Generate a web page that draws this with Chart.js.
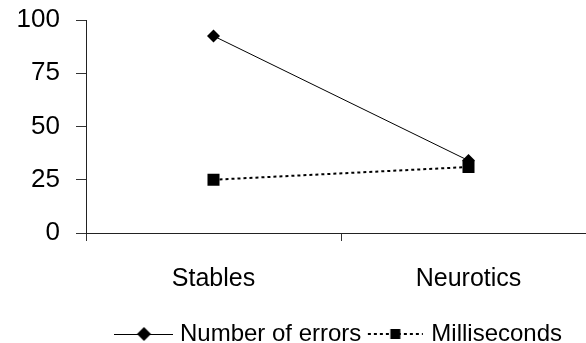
<!DOCTYPE html>
<html>
<head>
<meta charset="utf-8">
<script src="https://cdn.jsdelivr.net/npm/chart.js@4/dist/chart.umd.min.js"></script>
<style>
    html, body { margin: 0; background: #fff; overflow: hidden; }
    #wrap { width: 586px; height: 343px; overflow: hidden; }
    canvas { display: block; }
</style>
</head>
<body>
<div id="wrap">
    <!-- canvas is 10px wider than the page: the plot runs off the right edge as in the original -->
    <canvas id="lineChart" width="596" height="343"></canvas>
</div>
<script>
// Chart data
var groups = ['Stables', 'Neurotics'];
var numberOfErrors = [92.5, 34];
var milliseconds = [25, 31];
var seriesNames = ['Number of errors', 'Milliseconds'];
var yTicks = [0, 25, 50, 75, 100];

var fontName = '"Liberation Sans", Arial, sans-serif';

// small legend pictures: line + marker
function legendMark(kind) {
    var c = document.createElement('canvas');
    c.width = 59;
    c.height = 16;
    var ctx = c.getContext('2d');
    ctx.strokeStyle = '#000';
    ctx.fillStyle = '#000';
    if (kind == 'diamond') {
        ctx.lineWidth = 1;
        ctx.beginPath();
        ctx.moveTo(0, 8.5);
        ctx.lineTo(59, 8.5);
        ctx.stroke();
        ctx.beginPath();
        ctx.moveTo(29.5, 1);
        ctx.lineTo(36.5, 8);
        ctx.lineTo(29.5, 15);
        ctx.lineTo(22.5, 8);
        ctx.closePath();
        ctx.fill();
    } else {
        ctx.lineWidth = 2;
        ctx.setLineDash([3, 3]);
        ctx.beginPath();
        ctx.moveTo(2, 8);
        ctx.lineTo(57, 8);
        ctx.stroke();
        ctx.fillRect(24.5, 3, 10, 10);
    }
    return c;
}

// no extra label padding, layout padding does the job
function noPadding(scale) {
    scale.paddingLeft = 0;
    scale.paddingRight = 0;
    scale.paddingTop = 0;
    scale.paddingBottom = 0;
}

var ctx = document.getElementById('lineChart').getContext('2d');
var chart = new Chart(ctx, {
    type: 'line',
    data: {
        labels: groups,
        datasets: [
            {
                label: seriesNames[0],
                data: numberOfErrors,
                borderColor: '#000',
                backgroundColor: '#000',
                borderWidth: 1,
                pointStyle: 'rectRot',
                pointRadius: 6.5,
                pointBorderWidth: 0,
                tension: 0,
                order: 1
            },
            {
                label: seriesNames[1],
                data: milliseconds,
                borderColor: '#000',
                backgroundColor: '#000',
                borderWidth: 2,
                borderDash: [3, 3],
                pointStyle: 'rect',
                pointRadius: 8.5,
                pointBorderWidth: 0,
                tension: 0,
                order: 0
            }
        ]
    },
    options: {
        responsive: false,
        animation: false,
        devicePixelRatio: 1,
        layout: {
            autoPadding: false,
            padding: { left: 0, right: 0, top: 20, bottom: -13 }
        },
        scales: {
            x: {
                type: 'category',
                offset: true,
                grid: {
                    offset: true,
                    drawOnChartArea: false,
                    tickLength: 8,
                    color: '#333'
                },
                border: { color: '#222' },
                ticks: {
                    color: '#000',
                    padding: 23,
                    font: { family: fontName, size: 25 }
                },
                afterFit: function (scale) {
                    scale.height = 79;
                    noPadding(scale);
                }
            },
            y: {
                min: 0,
                max: 100,
                afterBuildTicks: function (scale) {
                    scale.ticks = yTicks.map(function (v) { return { value: v }; });
                },
                grid: {
                    drawOnChartArea: false,
                    tickLength: 10,
                    color: '#333'
                },
                border: { color: '#222' },
                ticks: {
                    color: '#000',
                    padding: 16,
                    font: { family: fontName, size: 26 }
                },
                afterFit: function (scale) {
                    scale.width = 86;
                    noPadding(scale);
                }
            }
        },
        plugins: {
            tooltip: { enabled: false },
            legend: {
                position: 'bottom',
                fullSize: false,
                labels: {
                    usePointStyle: true,
                    pointStyleWidth: 48,
                    padding: 10,
                    color: '#000',
                    font: { family: fontName, size: 24 },
                    generateLabels: function (chart) {
                        return [
                            { text: seriesNames[0], pointStyle: legendMark('diamond'), fillStyle: '#000', strokeStyle: '#000', lineWidth: 0, hidden: false, datasetIndex: 0, fontColor: '#000' },
                            { text: seriesNames[1], pointStyle: legendMark('square'), fillStyle: '#000', strokeStyle: '#000', lineWidth: 0, hidden: false, datasetIndex: 1, fontColor: '#000' }
                        ];
                    }
                }
            }
        }
    }
});
</script>
</body>
</html>
